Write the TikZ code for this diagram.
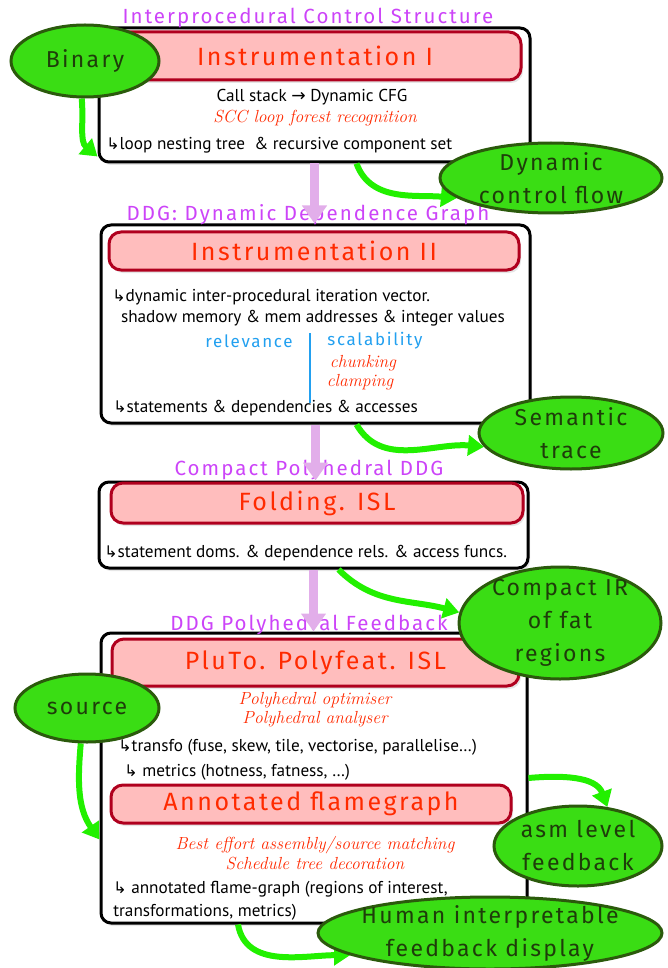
\documentclass[tikz,border=0pt]{standalone}
\usepackage{fontspec}
\usepackage{xcolor}
\usepackage{tikz}
\usetikzlibrary{arrows.meta}
\usetikzlibrary{shapes.geometric,shadows}
\usetikzlibrary{positioning}
\newfontfamily\bodyfont{PT Sans}
\newfontfamily\handfont[LetterSpace=10]{Fira Sans}
\newfontfamily\symfont{DejaVu Sans}
\newcommand{\hook}{{\symfont\fontsize{16}{16}\selectfont ↳}}
\definecolor{titleviolet}{HTML}{CC44F8}
\definecolor{redtext}{HTML}{FF2A00}
\definecolor{toolfill}{HTML}{FFBDBD}
\definecolor{toolborder}{HTML}{B0001E}
\definecolor{datafill}{HTML}{3ADD14}
\definecolor{datadark}{HTML}{2B5A0C}
\definecolor{datatext}{HTML}{1E3D0A}
\definecolor{flowgreen}{HTML}{22F000}
\definecolor{downviolet}{HTML}{E2AEEA}
\definecolor{keyblue}{HTML}{22A0F0}
\pgfdeclarelayer{fg}
\pgfsetlayers{main,fg}
\begin{document}
\begin{tikzpicture}[x=1pt,y=1pt,semithick]
	\tikzstyle{outer}=[draw=black, line width=3pt, rounded corners=10pt, fill=white, drop shadow={opacity=0.2,shadow xshift=2pt,shadow yshift=-3pt}]
	\tikzstyle{tool}=[draw=toolborder, line width=3pt, rounded corners=12pt, fill=toolfill, text=redtext, font=\handfont\fontsize{25}{28}\selectfont, drop shadow={opacity=0.2,shadow xshift=2pt,shadow yshift=-3pt}]
	\tikzstyle{stage}=[text=titleviolet, font=\handfont\fontsize{20.5}{22}\selectfont, inner sep=0pt]
	\tikzstyle{line}=[font=\bodyfont\fontsize{17.2}{23}\selectfont, inner sep=0pt]
	\tikzstyle{note}=[text=redtext, font=\itshape\fontsize{17.5}{19}\selectfont, inner sep=0pt]
	\tikzstyle{keyword}=[text=keyblue, font=\handfont\fontsize{17}{19}\selectfont, inner sep=0pt]
	\tikzstyle{data}=[ellipse, draw=datadark, fill=datafill, line width=3pt, text=datatext, align=center, font=\handfont\fontsize{23}{33}\selectfont, inner sep=-30pt]
	\tikzstyle{flow}=[-{Triangle[length=16pt,width=20pt]}, line width=6pt, draw=flowgreen]
	\tikzstyle{down}=[-{Triangle[length=18pt,width=24pt]}, line width=9pt, draw=downviolet]

	\useasboundingbox (0,0) rectangle (668,-968);

	\node[outer, minimum width=431pt, minimum height=134pt] (box1) at (314.5,-95) {};
	\node[outer, minimum width=429pt, minimum height=198pt] (box2) at (315.5,-324) {};
	\node[outer, minimum width=429pt, minimum height=86pt] (box3) at (313.5,-525) {};
	\node[outer, minimum width=426pt, minimum height=290pt] (box4) at (314,-778) {};

	\node[tool, minimum width=412pt, minimum height=48pt] (instr1) at (315,-56) {Instrumentation I};
	\node[tool, minimum width=410pt, minimum height=38pt] (instr2) at (314,-251) {Instrumentation II};
	\node[tool, minimum width=412pt, minimum height=40pt] (fold) at (317,-503) {Folding. ISL};
	\node[tool, minimum width=407pt, minimum height=47pt] (pluto) at (315.5,-662.5) {PluTo. Polyfeat. ISL};
	\node[tool, minimum width=400pt, minimum height=38pt] (flamebox) at (311,-804) {Annotated flamegraph};

	\node[stage] (t1) at (308,-18) {Interprocedural Control Structure};
	\node[stage] (t2) at (308,-215) {DDG: Dynamic Dependence Graph};
	\node[stage] (t3) at (309,-470) {Compact Polyhedral DDG};
	\node[stage] (t4) at (309,-625) {DDG Polyhedral Feedback};

	\node[line] (cfg) at (312,-97) {Call stack {\symfont→} Dynamic CFG};
	\node[note] (scc) at (315,-118) {SCC loop forest recognition};
	\node[line, anchor=west] (nest) at (106,-145) {\hook loop nesting tree \ \& recursive component set};

	\node[line, anchor=west] (iv) at (112,-297) {\hook dynamic inter-procedural iteration vector.};
	\node[line] (shadow) at (313,-318) {shadow memory \& mem addresses \& integer values};
	\node[keyword] (rel) at (249,-341) {relevance};
	\node[keyword] (scal) at (375,-341) {scalability};
	\node[note] (chunk) at (363,-363) {chunking};
	\node[note] (clamp) at (360,-382) {clamping};
	\node[line, anchor=west] (acc) at (113,-408) {\hook statements \& dependencies \& accesses};
	\draw[keyblue, line width=2pt] (rel.east -| 310,0) ++(0,8) -- ++(0,-70);

	\node[line, anchor=west] (doms) at (104,-553) {\hook statement doms. \& dependence rels. \& access funcs.};

	\node[note] (opt) at (315,-700) {Polyhedral optimiser};
	\node[note] (ana) at (315,-719) {Polyhedral analyser};
	\node[line, anchor=west] (transfo) at (118,-747) {\hook transfo (fuse, skew, tile, vectorise, parallelise…)};
	\node[line, anchor=west] (metrics) at (124,-772) {\hook\ metrics (hotness, fatness, …)};
	\node[note] (match) at (315,-845) {Best effort assembly/source matching};
	\node[note] (deco) at (315,-864) {Schedule tree decoration};
	\node[line, anchor=west, align=left] (flame) at (113,-901) {\hook\ annotated flame-graph (regions of interest,\\transformations, metrics)};

	\begin{pgfonlayer}{fg}
	\node[data, minimum width=148pt, minimum height=72pt] (binary) at (85,-61) {Binary};
	\node[data, minimum width=222pt, minimum height=70pt] (dyn) at (551,-178) {Dynamic\\control flow};
	\node[data, minimum width=184pt, minimum height=72pt] (sem) at (571,-433) {Semantic\\trace};
	\node[data, minimum width=202pt, minimum height=112pt] (ir) at (560,-623) {Compact IR\\of fat\\regions};
	\node[data, minimum width=144pt, minimum height=68pt] (src) at (87,-708) {source};
	\node[data, minimum width=168pt, minimum height=80pt] (asm) at (578,-846) {asm level\\feedback};
	\node[data, minimum width=344pt, minimum height=72pt] (human) at (490,-933) {Human interpretable\\feedback display};
	\end{pgfonlayer}

	\foreach \a/\b in {box1/box2, box2/box3, box3/box4}{
		\draw[down] (\a.south) -- (\a.south |- \b.north);
		}

	\draw[flow] (binary.265) to[out=-85,in=140] ([yshift=7pt]box1.south west);
	\draw[flow] ([xshift=42pt]box1.south) to[out=-70,in=175] (dyn.192);
	\draw[flow] ([xshift=41pt]box2.south) to[out=-60,in=175] (sem.189);
	\draw[flow] ([xshift=25pt]box3.south) to[out=-45,in=165] (ir.174);
	\draw[flow] (src.260) to[out=-95,in=125] ([yshift=85pt]box4.south west);
	\draw[flow] (box4.east) to[out=5,in=110] (asm.53);
	\draw[flow] ([xshift=-76pt]box4.south) to[out=-80,in=180] (human.189);
\end{tikzpicture}
\end{document}
